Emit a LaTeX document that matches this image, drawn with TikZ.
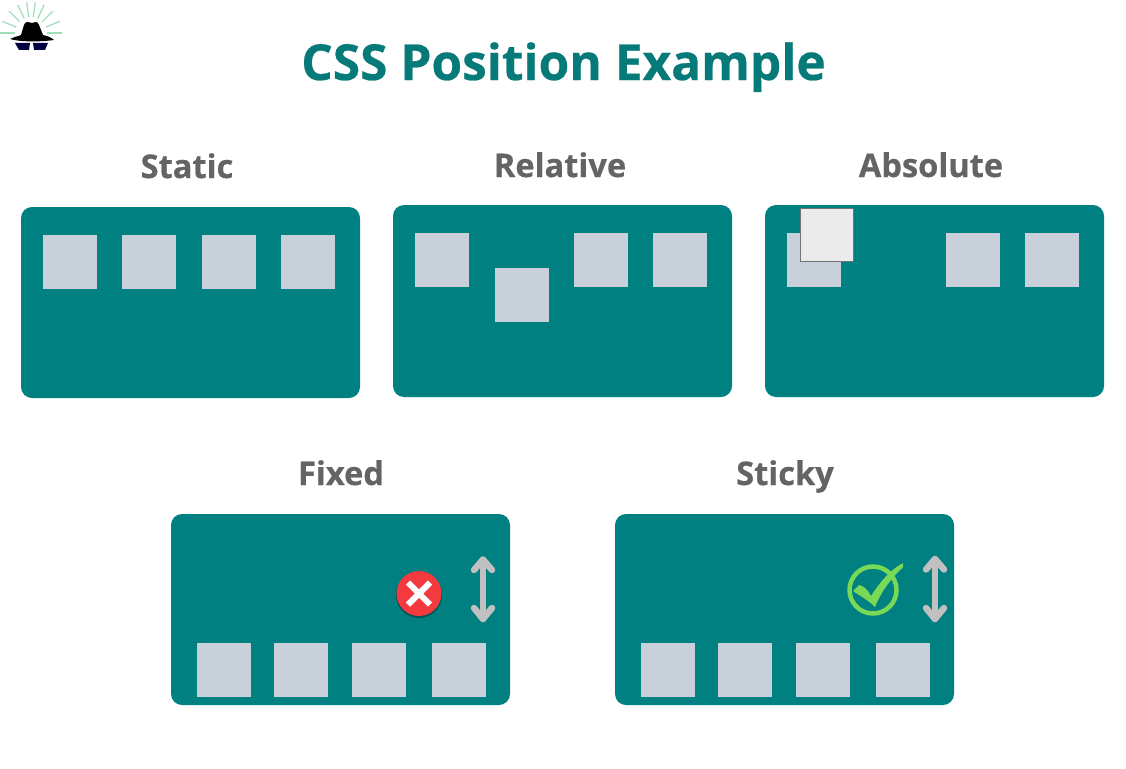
\documentclass[tikz,border=0pt]{standalone}
\usepackage{fontspec}
\usetikzlibrary{calc}
\setmainfont{Open Sans}
\definecolor{teal1}{HTML}{008080}
\definecolor{sq}{HTML}{C8D0DA}
\definecolor{ttl}{HTML}{067A78}
\definecolor{hd}{HTML}{646464}
\definecolor{arr}{HTML}{C0C0C0}
\definecolor{raygreen}{HTML}{A0DFB8}
\definecolor{chk}{HTML}{78D957}
\definecolor{redx}{HTML}{F23A3F}
\begin{document}
\begin{tikzpicture}[x=1pt,y=-1pt,
  panel/.style={fill=teal1,rounded corners=11pt,draw=none},
  sqbox/.style={fill=sq,draw=none,minimum width=54pt,minimum height=54pt,inner sep=0,anchor=north west},
  head/.style={font=\bfseries\fontsize{32.6}{36}\selectfont\addfontfeature{FakeBold=0.5},text=hd,inner sep=0,anchor=base},
  arrowline/.style={draw=arr,line width=6.5pt,line cap=round,line join=round}]
\useasboundingbox (0,0) rectangle (1126,768);
\fill[white] (0,0) rectangle (1126,768);
% logo
\foreach \a in {0,22,45,65,82,98,115,135,158,180}{
  \draw[raygreen,line width=1.3pt] ($(31,33)+({16*cos(\a)},{-16*sin(\a)})$) -- ($(31,33)+({31*cos(\a)},{-31*sin(\a)})$);
}
\fill[black] (10,39) .. controls (16,36) and (20,36) .. (21,35) -- (24,25) .. controls (25,21) and (29,22) .. (32,23) .. controls (35,22) and (38,21) .. (39,25) -- (43,35) .. controls (47,36) and (51,37) .. (54,40) .. controls (40,42) and (20,42) .. (10,39) -- cycle;
\fill[black!75!blue] (15,43) -- (30,43) -- (29,50) -- (19,50) -- cycle;
\fill[black!75!blue] (33,43) -- (48,43) -- (45,50) -- (34,50) -- cycle;
% title
\node[font=\bfseries\fontsize{49.6}{56}\selectfont\addfontfeature{FakeBold=0.5},text=ttl,inner sep=0,anchor=base] (title) at (563.5,80) {CSS Position Example};
% headings
\node[head] (hstatic) at (187,178) {Static};
\node[head] (hrelative) at (560,177) {Relative};
\node[head] (habsolute) at (931,177) {Absolute};
\node[head] (hfixed) at (341,485) {Fixed};
\node[head] (hsticky) at (785,485) {Sticky};
% panels
\fill[panel] (21,207) rectangle (360,398);
\fill[panel] (393,205) rectangle (732,397);
\fill[panel] (765,205) rectangle (1104,397);
\fill[panel] (171,514) rectangle (510,705);
\fill[panel] (615,514) rectangle (954,705);
% static squares
\node[sqbox] (s1) at (43,235) {};
\node[sqbox] (s2) at (122,235) {};
\node[sqbox] (s3) at (201.5,235) {};
\node[sqbox] (s4) at (281,235) {};
% relative
\node[sqbox] (r1) at (415,233) {};
\node[sqbox] (r2) at (494.5,267.5) {};
\node[sqbox] (r3) at (573.5,233) {};
\node[sqbox] (r4) at (653,233) {};
% absolute
\node[sqbox] (a1) at (787,233) {};
\node[sqbox,fill=white!92!black,draw=black!55,line width=0.8pt,minimum width=53pt,minimum height=53pt] (a2) at (800,208) {};
\node[sqbox] (a3) at (945.5,233) {};
\node[sqbox] (a4) at (1025,233) {};
% fixed
\node[sqbox] (f1) at (197,642.5) {};
\node[sqbox] (f2) at (274,642.5) {};
\node[sqbox] (f3) at (352,642.5) {};
\node[sqbox] (f4) at (432,643) {};
% sticky
\node[sqbox] (t1) at (641,642.5) {};
\node[sqbox] (t2) at (718,642.5) {};
\node[sqbox] (t3) at (796,642.5) {};
\node[sqbox] (t4) at (875.5,643) {};
% arrows
\draw[arrowline] (483,560) -- (483,619);
\draw[arrowline] (474,570) -- (483,559.5) -- (492,570);
\draw[arrowline] (474,608) -- (483,619) -- (492,608);
\draw[arrowline] (935,559) -- (935,619);
\draw[arrowline] (926,569.5) -- (935,559) -- (944,569.5);
\draw[arrowline] (926,608) -- (935,619) -- (944,608);
% cross
\fill[black!35!teal1] (419,595) circle (23pt);
\fill[redx] (419,593.5) circle (22.5pt);
\draw[white,line width=6pt] (408,582.5) -- (430,604.5) (430,582.5) -- (408,604.5);
% check
\draw[chk,line width=4.5pt] (873,590) circle (23.5pt);
\fill[chk] (853,591) -- (859,585) .. controls (864,586) and (868,590) .. (871,596) .. controls (880,582) and (890,570) .. (903,563) .. controls (904,566) and (903,568) .. (900,570) .. controls (889,581) and (880,594) .. (875,607) .. controls (868,600) and (860,596) .. (853,591) -- cycle;
\end{tikzpicture}
\end{document}
